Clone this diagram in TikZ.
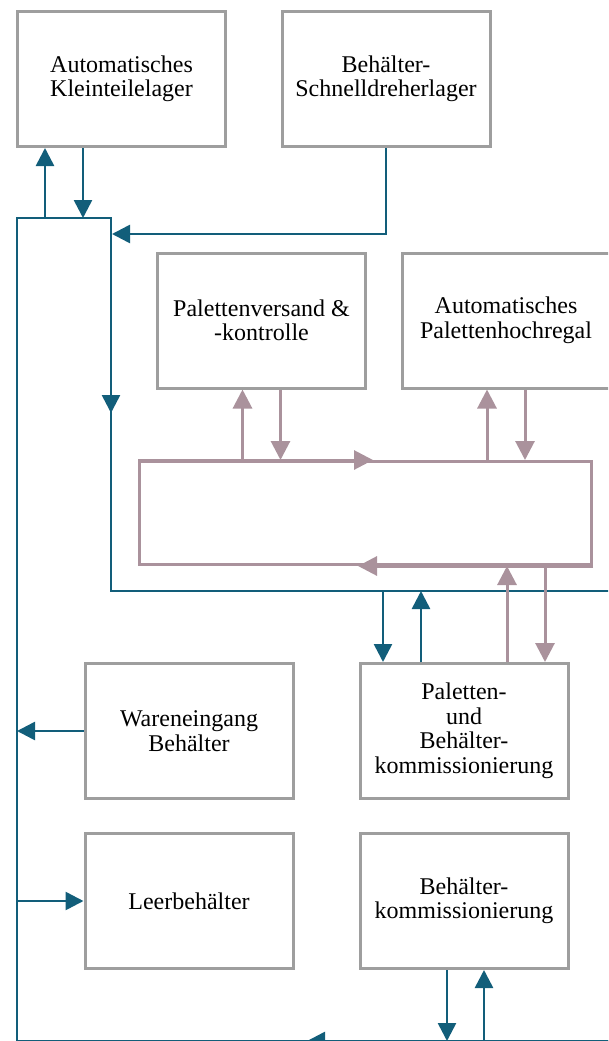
\documentclass[tikz,border=0pt]{standalone}
\usepackage{fontspec}
\setmainfont{Liberation Serif}
\usetikzlibrary{arrows.meta}
\definecolor{petrol}{RGB}{18,94,122}
\definecolor{mauve}{RGB}{170,146,156}
\definecolor{boxgray}{RGB}{158,158,158}
\tikzset{
  box/.style={draw=boxgray, line width=3pt, minimum width=208pt, minimum height=135pt,
    align=center, inner sep=0pt, font=\fontsize{24pt}{24.5pt}\selectfont},
  blueline/.style={draw=petrol, line width=2.6pt},
  bluearrow/.style={blueline, -{Triangle[width=18pt,length=18pt]}},
  mauvearrow/.style={draw=mauve, line width=3pt, -{Triangle[width=19pt,length=19pt]}},
}
\begin{document}
\begin{tikzpicture}[x=1pt,y=-1pt]
\useasboundingbox (0,0) rectangle (608,1041);
\clip (0,0) rectangle (608,1041);

\node[box] (kl) at (121.5,79) {Automatisches\\Kleinteilelager};
\node[box] (sd) at (386,79) {Behälter-\\Schnelldreherlager};
\node[box] (pv) at (261.5,320.5) {Palettenversand \&\\-kontrolle};
\node[box] (ph) at (506,320.5) {Automatisches\\Palettenhochregal};
\node[draw=mauve, line width=3pt, minimum width=452pt, minimum height=103pt] (loop) at (365.5,513) {};
\node[box] (we) at (189,731) {Wareneingang\\Behälter};
\node[box] (pbk) at (464,731) {Paletten-\\und\\Behälter-\\kommissionierung};
\node[box] (lb) at (189,901) {Leerbehälter};
\node[box] (bk) at (464,901) {Behälter-\\kommissionierung};

% Behaelter-Foerdertechnik
\coordinate (bustl) at (17,218);
\coordinate (bustr) at (111,218);
\coordinate (busm) at (111,591);
\coordinate (busr) at (615,591);
\coordinate (busbl) at (17,1041);
\coordinate (busbr) at (615,1041);
\coordinate (sdin) at (112,234);
\coordinate (midtip) at (111,413);
\coordinate (bottip) at (307,1041);

\path[blueline] (busbl) -- (bustl) -- (bustr) -- (busm) -- (busr);
\path[blueline] (busbl) -- (busbr);
\path[bluearrow] (bustr) -- (midtip);
\path[bluearrow] (busbr) -- (bottip);

\path[bluearrow] ([xshift=-76.5pt]kl.south |- bustl) -- ([xshift=-76.5pt]kl.south);
\path[bluearrow] ([xshift=-38.5pt]kl.south) -- ([xshift=-38.5pt]kl.south |- bustl);
\path[bluearrow] (sd.south) |- (sdin);
\path[bluearrow] (we.west) -- (we.west -| bustl);
\path[bluearrow] (lb.west -| bustl) -- (lb.west);
\path[bluearrow] ([xshift=-81pt]pbk.north |- busm) -- ([xshift=-81pt]pbk.north);
\path[bluearrow] ([xshift=-43pt]pbk.north) -- ([xshift=-43pt]pbk.north |- busm);
\path[bluearrow] ([xshift=-17pt]bk.south) -- ([xshift=-17pt]bk.south |- busbl);
\path[bluearrow] ([xshift=20pt]bk.south |- busbl) -- ([xshift=20pt]bk.south);

% Paletten-Foerdertechnik
\path[mauvearrow] (loop.north west) -- ([xshift=7.5pt]loop.north);
\path[mauvearrow] (loop.south east) -- ([xshift=-7.5pt]loop.south);
\path[mauvearrow] ([xshift=-19pt]pv.south |- loop.north) -- ([xshift=-19pt]pv.south);
\path[mauvearrow] ([xshift=19pt]pv.south) -- ([xshift=19pt]pv.south |- loop.north);
\path[mauvearrow] ([xshift=-19pt]ph.south |- loop.north) -- ([xshift=-19pt]ph.south);
\path[mauvearrow] ([xshift=19pt]ph.south) -- ([xshift=19pt]ph.south |- loop.north);
\path[mauvearrow] ([xshift=43pt]pbk.north) -- ([xshift=43pt]pbk.north |- loop.south);
\path[mauvearrow] ([xshift=81pt]pbk.north |- loop.south) -- ([xshift=81pt]pbk.north);
\end{tikzpicture}
\end{document}
